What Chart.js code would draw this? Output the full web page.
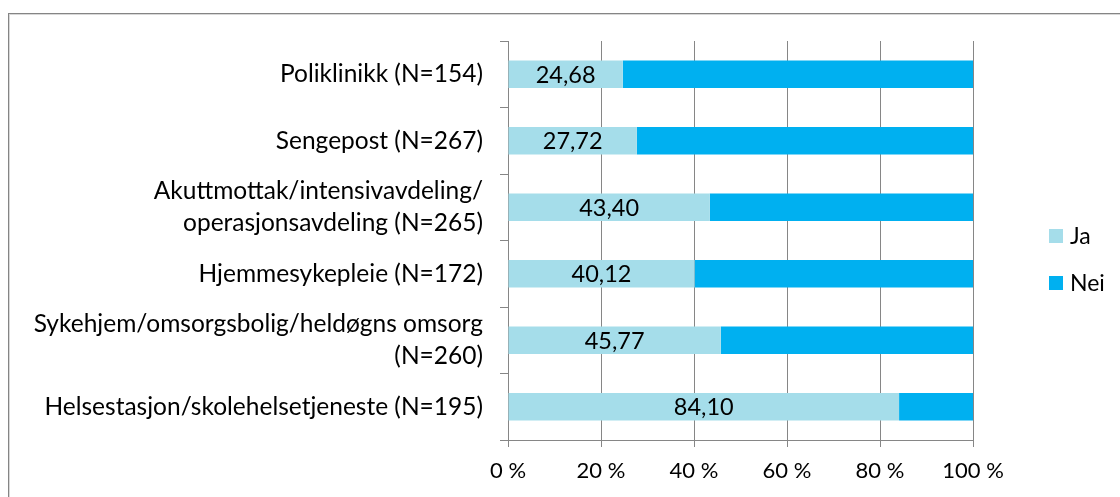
<!DOCTYPE html>
<html>
<head>
<meta charset="utf-8">
<script src="https://cdn.jsdelivr.net/npm/chart.js@4/dist/chart.umd.min.js"></script>
<style>
  html, body { margin: 0; padding: 0; background: #fff; overflow: hidden; }
  #frame { position: absolute; left: 8px; top: 13px; width: 1200px; height: 600px;
           border-top: 1px solid #858585; border-left: 1px solid #858585; }
  #frame2 { position: absolute; left: 0; top: 0; right: 0; bottom: 0;
            border-top: 1px solid #d8d8d8; border-left: 1px solid #d8d8d8; }
  #wrap { position: absolute; left: 0; top: 0; width: 1120px; height: 497px; }
</style>
</head>
<body>
<div id="frame"><div id="frame2"></div></div>
<div id="wrap"><canvas id="barChart" width="1120" height="497"></canvas></div>
<script>
// Data
const categories = [
  'Poliklinikk (N=154)',
  'Sengepost (N=267)',
  ['Akuttmottak/intensivavdeling/', 'operasjonsavdeling (N=265)'],
  'Hjemmesykepleie (N=172)',
  ['Sykehjem/omsorgsbolig/heldøgns omsorg', '(N=260)'],
  'Helsestasjon/skolehelsetjeneste (N=195)',
];
const jaValues = [24.68, 27.72, 43.40, 40.12, 45.77, 84.10];
const neiValues = [75.32, 72.28, 56.60, 59.88, 54.23, 15.90];
const xTicks = [0, 20, 40, 60, 80, 100];

const FONT = 'Lato, Carlito, Calibri, sans-serif';
const gridColor = '#868686';

// values in the Ja segments
const valueLabels = {
  id: 'valueLabels',
  afterDatasetsDraw(chart) {
    const ctx = chart.ctx;
    const meta = chart.getDatasetMeta(0);
    ctx.save();
    ctx.font = '23.5px ' + FONT;
    ctx.fillStyle = '#000';
    ctx.textAlign = 'center';
    ctx.textBaseline = 'middle';
    meta.data.forEach((bar, i) => {
      const cx = (bar.x + bar.base) / 2;
      ctx.fillText(jaValues[i].toFixed(2).replace('.', ','), cx, bar.y + 1);
    });
    ctx.restore();
  },
};

// legend on the right
const sideLegend = {
  id: 'sideLegend',
  afterDraw(chart) {
    const ctx = chart.ctx;
    ctx.save();
    ctx.font = '23px ' + FONT;
    ctx.textBaseline = 'middle';
    chart.data.datasets.forEach((ds, i) => {
      const y = 236 + i * 47;
      ctx.fillStyle = ds.backgroundColor;
      ctx.fillRect(1049, y - 7, 14, 14);
      ctx.fillStyle = '#000';
      ctx.fillText(ds.label, 1070, y + 1);
    });
    ctx.restore();
  },
};

new Chart(document.getElementById('barChart'), {
  type: 'bar',
  data: {
    labels: categories,
    datasets: [
      { label: 'Ja', data: jaValues, backgroundColor: '#A5DDEA' },
      { label: 'Nei', data: neiValues, backgroundColor: '#00B0F0' },
    ],
  },
  options: {
    indexAxis: 'y',
    responsive: false,
    animation: false,
    barPercentage: 0.41,
    categoryPercentage: 1,
    layout: { padding: { top: 41, right: 147, left: 0, bottom: 0 } },
    plugins: {
      legend: { display: false },
      tooltip: { enabled: false },
    },
    scales: {
      x: {
        stacked: true,
        min: 0,
        max: 100,
        afterBuildTicks: (scale) => { scale.ticks = xTicks.map(v => ({ value: v })); },
        afterFit: (scale) => { scale.height = 57; },
        ticks: {
          color: '#000',
          font: { family: FONT, size: 22 },
          padding: 11,
          callback: (v) => v + ' %',
        },
        grid: { color: gridColor, tickLength: 7 },
        border: { color: gridColor },
      },
      y: {
        stacked: true,
        afterFit: (scale) => { scale.width = 508; },
        ticks: {
          color: '#000',
          font: { family: FONT, size: 24.5, lineHeight: 1.28 },
          padding: 17,
        },
        grid: { offset: true, drawOnChartArea: false, color: gridColor, tickLength: 8 },
        border: { color: gridColor },
      },
    },
  },
  plugins: [valueLabels, sideLegend],
});
</script>
</body>
</html>
